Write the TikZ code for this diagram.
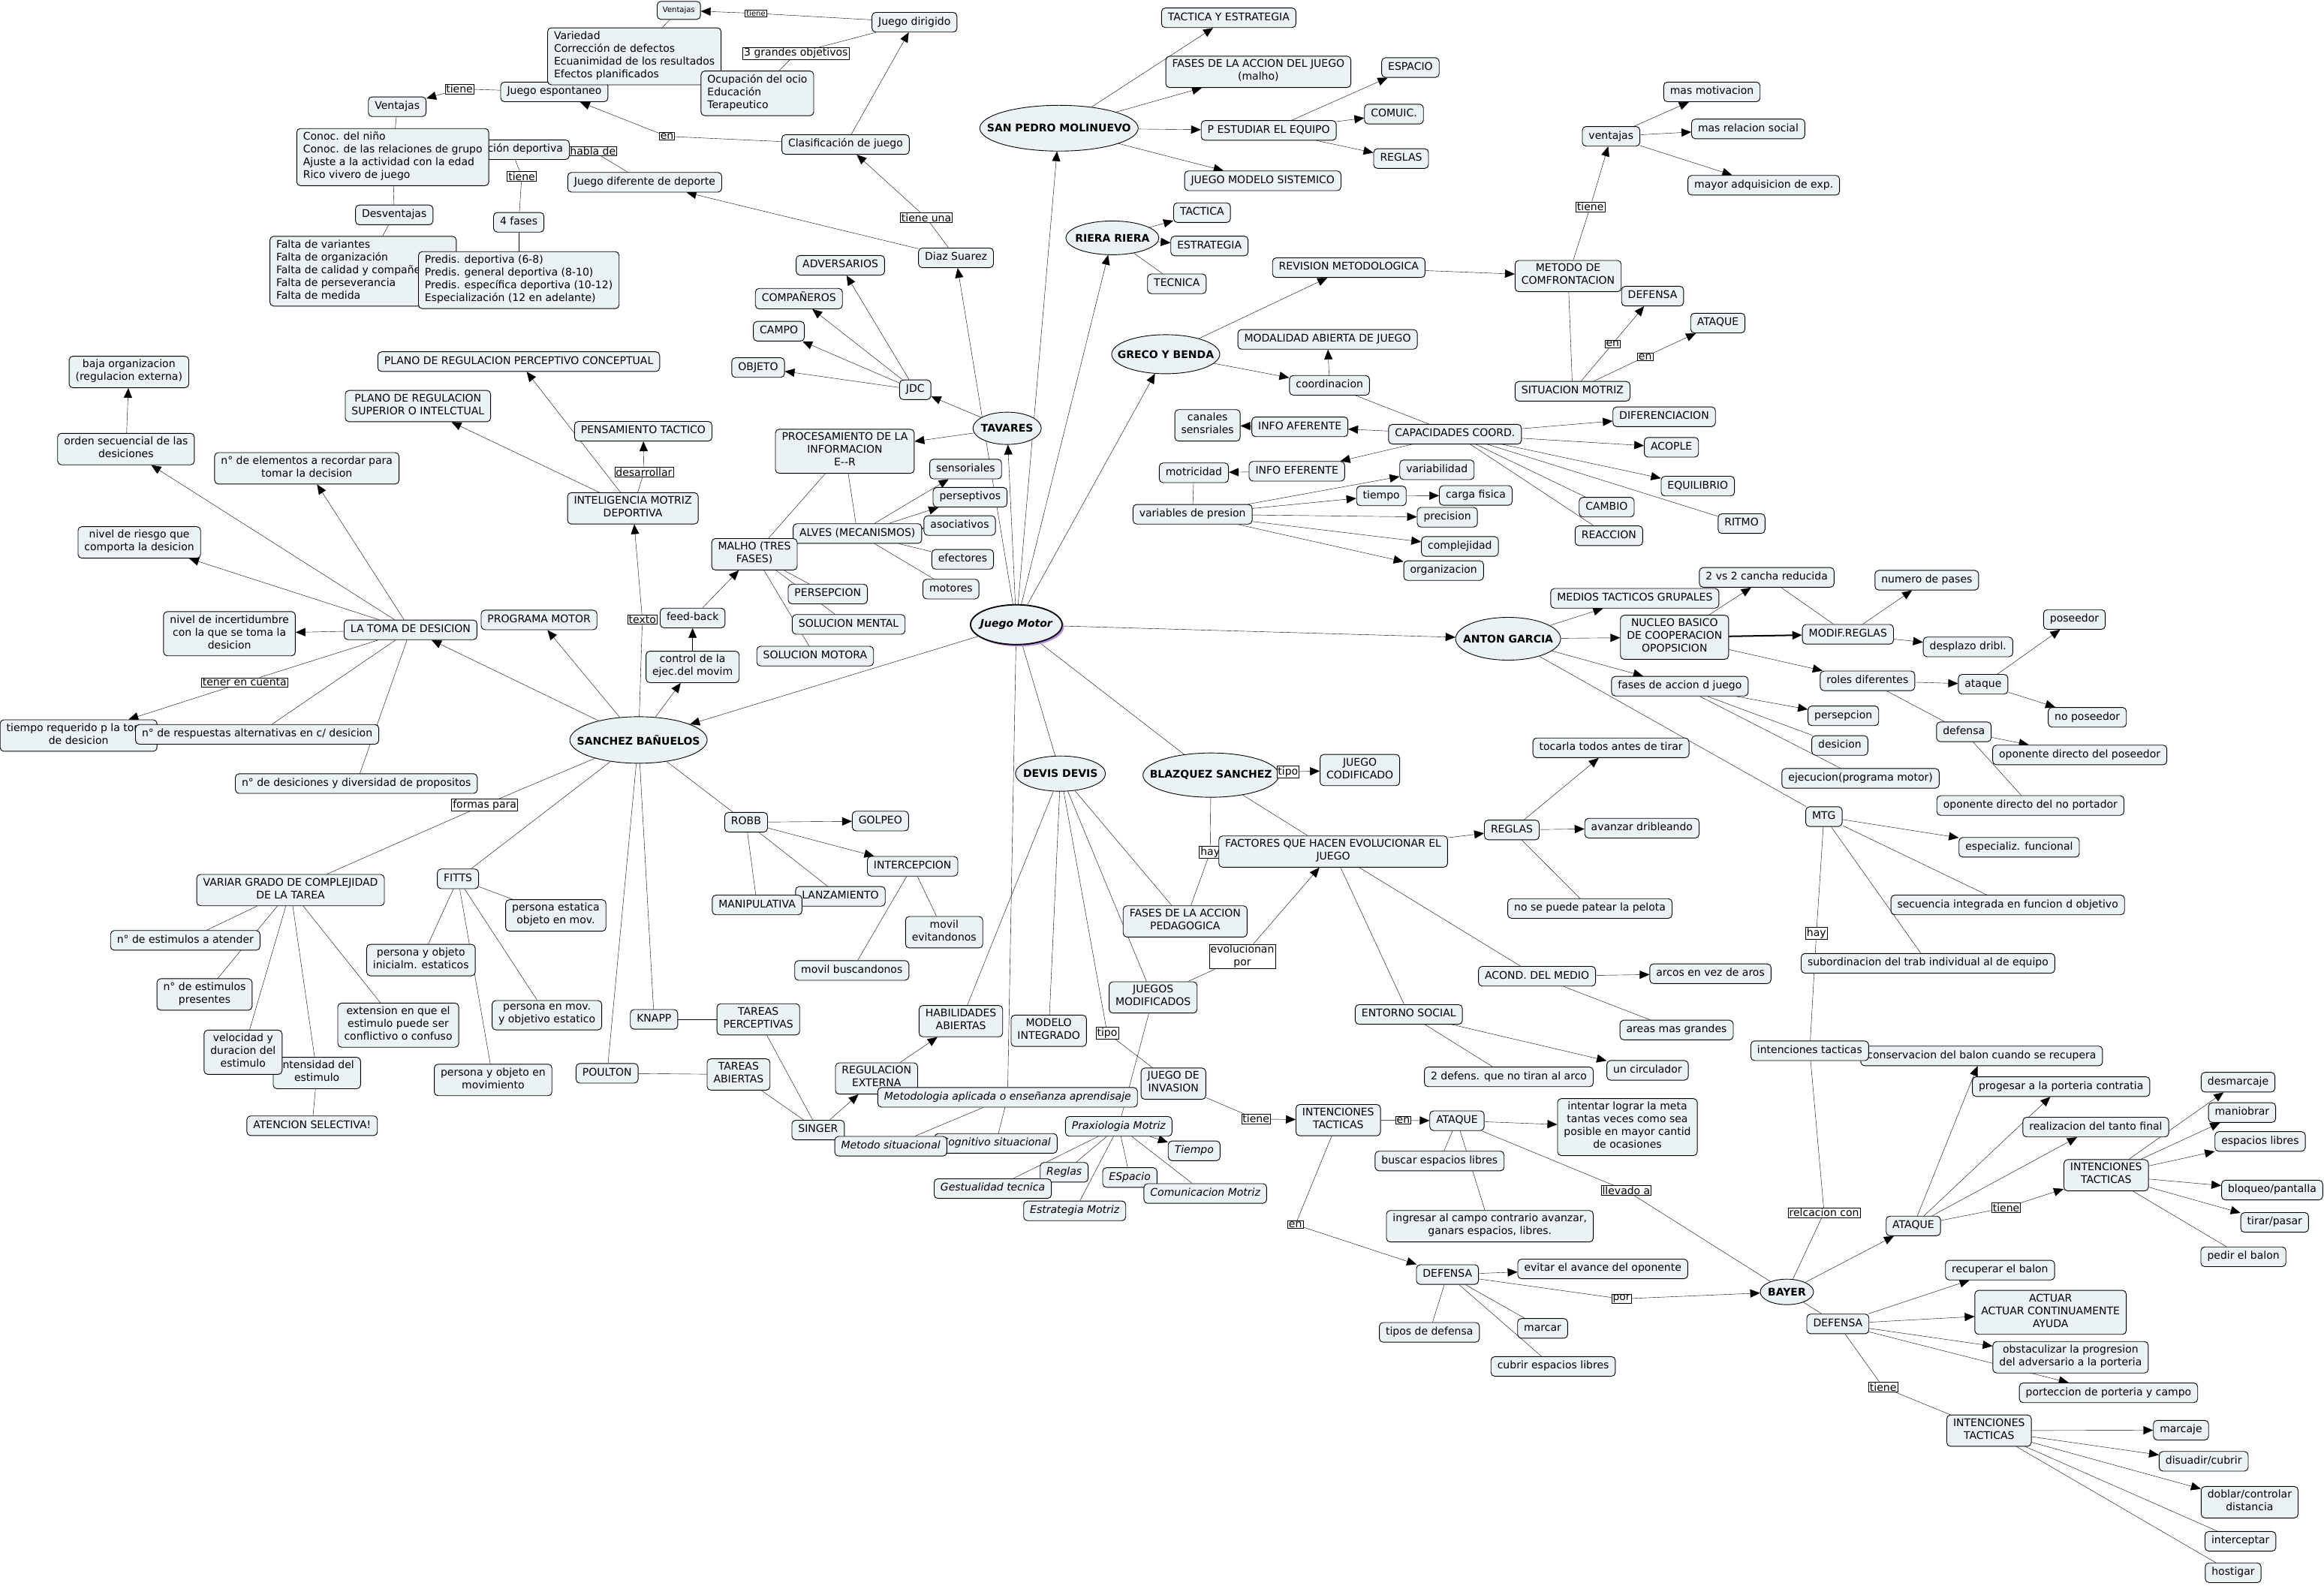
\documentclass[tikz,border=0pt]{standalone}
\usepackage{fontspec}
\setmainfont{DejaVu Sans}
\usetikzlibrary{arrows.meta,shapes.geometric,backgrounds,shadows}
\definecolor{cfill}{HTML}{EBF2F4}
\definecolor{shd}{HTML}{B68FE3}
\newcommand{\mapfont}{\fontsize{14}{17}\selectfont}
\newcommand{\tinyfont}{\fontsize{10}{12}\selectfont}
\tikzset{
  box/.style={draw,line width=0.9pt,rounded corners=5pt,fill=cfill,align=center,font=\mapfont,inner xsep=8.5pt,inner ysep=4.6pt,execute at begin node=\strut,execute at end node=\strut},
  lbox/.style={box,align=left},
  ibox/.style={box,font=\mapfont\itshape},
  sbox/.style={box,font=\tinyfont,inner xsep=7.5pt,inner ysep=6pt},
  ell/.style={ellipse,draw,line width=0.9pt,fill=cfill,font=\mapfont\bfseries,inner xsep=-30pt,inner ysep=0pt},
  lbl/.style={draw,fill=white,line width=0.7pt,inner xsep=1.5pt,inner ysep=1pt,font=\mapfont,align=center},
  slbl/.style={lbl,font=\tinyfont},
  ar/.style={-{Triangle[length=13pt,width=11pt]}},
}
\begin{document}
\begin{tikzpicture}[x=1.9745pt,y=-1.9745pt]
\useasboundingbox (0,0) rectangle (1568,1070);

\node[sbox] (vent2) at (458,7) {Ventajas};
\node[box] (jesp) at (374,62) {Juego espontaneo};
\node[lbox] (var) at (428,38) {Variedad\\Corrección de defectos\\Ecuanimidad de los resultados\\Efectos planificados};
\node[box] (jdir) at (617,15) {Juego dirigido};
\node[lbox] (ocup) at (511,63) {Ocupación del ocio\\Educación\\Terapeutico};
\node[box] (clas) at (570.5,97.5) {Clasificación de juego};
\node[box] (vent) at (268,72) {Ventajas};
\node[box] (inic) at (345,101) {Iniciación deportiva};
\node[lbox] (conoc) at (265,106) {Conoc. del niño\\Conoc. de las relaciones de grupo\\Ajuste a la actividad con la edad\\Rico vivero de juego};
\node[box] (jdif) at (435,123) {Juego diferente de deporte};
\node[box] (desv) at (266,145) {Desventajas};
\node[box] (fases4) at (350,150) {4 fases};
\node[lbox] (falta) at (245,183) {Falta de variantes\\Falta de organización\\Falta de calidad y compañerismo\\Falta de perseverancia\\Falta de medida};
\node[lbox] (predis) at (350,189) {Predis. deportiva (6-8)\\Predis. general deportiva (8-10)\\Predis. específica deportiva (10-12)\\Especialización (12 en adelante)};
\node[box] (diaz) at (645,174) {Diaz Suarez};
\node[slbl] (lt1) at (510,9) {tiene};
\node[lbl] (l3g) at (537,36) {3 grandes objetivos};
\node[lbl] (len1) at (450,92) {en};
\node[lbl] (ltu) at (625,147) {tiene una};
\node[lbl] (lt2) at (310,60) {tiene};
\node[lbl] (lhab) at (400,102) {habla de};
\node[lbl] (lt3) at (352,119) {tiene};

\node[box] (adv) at (567,179) {ADVERSARIOS};
\node[box] (comp) at (539,201.5) {COMPAÑEROS};
\node[box] (campo) at (525.5,223.5) {CAMPO};
\node[box] (obj) at (511.5,248) {OBJETO};
\node[box] (jdc) at (617.5,263) {JDC};
\node[ell,minimum width=91pt,minimum height=43pt] (tav) at (679.5,289) {TAVARES};
\node[box] (proc) at (570,304.5) {PROCESAMIENTO DE LA\\INFORMACION\\E-{}-R};
\node[box] (sens) at (651.5,316.5) {sensoriales};
\node[box] (pers) at (654.5,335.5) {perseptivos};
\node[box] (asoc) at (647.5,354.6) {asociativos};
\node[box] (alves) at (578.5,360) {ALVES (MECANISMOS)};
\node[box] (malho) at (509,374) {MALHO (TRES\\FASES)};
\node[box] (efec) at (649.5,377.4) {efectores};
\node[box] (mot) at (641.6,397.5) {motores};
\node[box] (persep) at (558.5,400.8) {PERSEPCION};
\node[box] (solmen) at (572.6,421.3) {SOLUCION MENTAL};
\node[box] (solmot) at (550,442.7) {SOLUCION MOTORA};

\node[box] (feed) at (467.3,417) {feed-back};
\node[lbl] (ltexto) at (433.4,418) {texto};
\node[box] (ctrl) at (467.3,450) {control de la\\ejec.del movim};
\node[box] (imd) at (427,343) {INTELIGENCIA MOTRIZ\\DEPORTIVA};
\node[box] (pens) at (434,291) {PENSAMIENTO TACTICO};
\node[lbl] (ldes) at (434.5,318.6) {desarrollar};
\node[box] (plsup) at (282,274) {PLANO DE REGULACION\\SUPERIOR O INTELCTUAL};
\node[box] (plper) at (350,244) {PLANO DE REGULACION PERCEPTIVO CONCEPTUAL};
\node[box] (baja) at (87,251) {baja organizacion\\(regulacion externa)};
\node[box] (orden) at (85,303) {orden secuencial de las\\desiciones};
\node[box] (nelem) at (207,316) {n° de elementos a recordar para\\tomar la decision};
\node[box] (riesgo) at (94,366) {nivel de riesgo que\\comporta la desicion};
\node[box] (toma) at (277,425) {LA TOMA DE DESICION};
\node[box] (incert) at (154.8,427.6) {nivel de incertidumbre\\con la que se toma la\\desicion};
\node[box] (progm) at (363.7,418.3) {PROGRAMA MOTOR};
\node[lbl] (lten) at (165,460.3) {tener en cuenta};
\node[box] (treq) at (53,496.3) {tiempo requerido p la toma\\de desicion};
\node[box] (nresp) at (173.5,495.5) {n° de respuestas alternativas en c/ desicion};
\node[box] (ndes) at (240.4,528.7) {n° de desiciones y diversidad de propositos};
\node[ell,minimum width=183pt,minimum height=62pt] (sb) at (430.8,499.3) {SANCHEZ BAÑUELOS};
\node[lbl] (lform) at (327,543) {formas para};
\node[box] (variar) at (196,600.6) {VARIAR GRADO DE COMPLEJIDAD\\DE LA TAREA};
\node[box] (fitts) at (309,593) {FITTS};
\node[box] (pest) at (375,617.7) {persona estatica\\objeto en mov.};
\node[box] (natend) at (125,634.5) {n° de estimulos a atender};
\node[box] (pinic) at (284,647.8) {persona y objeto\\inicialm. estaticos};
\node[box] (npres) at (138,671) {n° de estimulos\\presentes};
\node[box] (ext) at (268.7,691.7) {extension en que el\\estimulo puede ser\\conflictivo o confuso};
\node[box] (pmov) at (369,685) {persona en mov.\\y objetivo estatico};
\node[box] (inten) at (213.8,724) {Intensidad del\\estimulo};
\node[box] (vel) at (164,710) {velocidad y\\duracion del\\estimulo};
\node[box] (atsel) at (210.6,759.6) {ATENCION SELECTIVA!};
\node[box] (pobj) at (332.7,728.7) {persona y objeto en\\movimiento};
\node[box] (poul) at (409.6,724.2) {POULTON};
\node[box] (knapp) at (441.3,687.8) {KNAPP};
\node[box] (tper) at (511.6,687.8) {TAREAS\\PERCEPTIVAS};
\node[box] (tab) at (498.3,725) {TAREAS\\ABIERTAS};
\node[box] (robb) at (503.4,554.8) {ROBB};
\node[box] (golpeo) at (594,554) {GOLPEO};
\node[box] (interc) at (615.7,584.5) {INTERCEPCION};
\node[box] (lanz) at (567,604.8) {LANZAMIENTO};
\node[box] (manip) at (510.8,610.6) {MANIPULATIVA};
\node[box] (mevit) at (637,629) {movil\\evitandonos};
\node[box] (mbusc) at (574.7,654.8) {movil buscandonos};

\node[ell,minimum width=122pt,minimum height=53pt,line width=1.8pt,font=\mapfont\bfseries\itshape,drop shadow={shadow xshift=2.5pt,shadow yshift=-2.5pt,fill=shd,opacity=1}] (jm) at (685.7,421.5) {Juego Motor};
\node[ell,minimum width=120pt,minimum height=47pt] (devis) at (715.5,522) {DEVIS DEVIS};
\node[ell,minimum width=181pt,minimum height=59pt] (blaz) at (817,523) {BLAZQUEZ SANCHEZ};
\node[box] (habab) at (648.3,689) {HABILIDADES\\ABIERTAS};
\node[box] (modint) at (707.6,695.5) {MODELO\\INTEGRADO};
\node[box] (jmod) at (778,673) {JUEGOS\\MODIFICADOS};
\node[lbl] (ltipo1) at (747,697) {tipo};
\node[box] (fasped) at (799.6,621.7) {FASES DE LA ACCION\\PEDAGOGICA};
\node[box] (regext) at (591.4,727.7) {REGULACION\\EXTERNA};
\node[ibox] (metod) at (679.8,740.4) {Metodologia aplicada o enseñanza aprendisaje};
\node[box] (jinv) at (791.7,731.2) {JUEGO DE\\INVASION};
\node[box] (singer) at (552,762.5) {SINGER};
\node[ibox] (cogsit) at (671.9,771.5) {Cognitivo situacional};
\node[ibox] (metsit) at (601,773.4) {Metodo situacional};
\node[ibox] (prax) at (754.8,760) {Praxiologia Motriz};
\node[ibox] (tiempo2) at (805.7,776.5) {Tiempo};
\node[ibox] (reglas2) at (718,791) {Reglas};
\node[ibox] (espacio2) at (762.3,794.5) {ESpacio};
\node[ibox] (gest) at (669.8,802) {Gestualidad tecnica};
\node[ibox] (comun) at (813.2,805.3) {Comunicacion Motriz};
\node[ibox] (estr) at (725.1,817) {Estrategia Motriz};

\node[box] (jcod) at (917.5,519.6) {JUEGO\\CODIFICADO};
\node[lbl] (ltipo2) at (869,520.8) {tipo};
\node[lbl] (lhay1) at (816.5,575) {hay};
\node[box] (factores) at (899.5,574.6) {FACTORES QUE HACEN EVOLUCIONAR EL\\JUEGO};
\node[box] (reglas3) at (1020,560) {REGLAS};
\node[box] (tocar) at (1086.9,504.6) {tocarla todos antes de tirar};
\node[box] (avanz) at (1107.8,558.8) {avanzar dribleando};
\node[box] (nopat) at (1072.7,613) {no se puede patear la pelota};
\node[lbl] (levol) at (838.2,645.5) {evolucionan\\por};
\node[box] (acond) at (1037,658.7) {ACOND. DEL MEDIO};
\node[box] (arcos) at (1154,657) {arcos en vez de aros};
\node[box] (areas) at (1131.2,695) {areas mas grandes};
\node[box] (entorno) at (950.5,684.5) {ENTORNO SOCIAL};
\node[box] (dosdef) at (1018,726.6) {2 defens. que no tiran al arco};
\node[box] (circ) at (1111.6,722.2) {un circulador};

\node[lbl] (ltiene4) at (847.4,755) {tiene};
\node[box] (intac1) at (902.9,755.8) {INTENCIONES\\TACTICAS};
\node[lbl] (len2) at (946.8,756) {en};
\node[box] (atq2) at (983,756.2) {ATAQUE};
\node[box] (intentar) at (1098,760.5) {intentar lograr la meta\\tantas veces como sea\\posible en mayor cantid\\de ocasiones};
\node[box] (buscar) at (971.3,783.4) {buscar espacios libres};
\node[box] (ingresar) at (1005.2,827.4) {ingresar al campo contrario avanzar,\\ganars espacios, libres.};
\node[lbl] (lllev) at (1097.2,803.3) {llevado a};
\node[lbl] (len3) at (874,826.3) {en};
\node[box] (def2) at (976.6,860) {DEFENSA};
\node[box] (evitar) at (1081.4,856.2) {evitar el avance del oponente};
\node[lbl] (lpor) at (1094,876.4) {por};
\node[box] (tipos) at (964.4,899) {tipos de defensa};
\node[box] (marcar) at (1040.8,896.3) {marcar};
\node[box] (cubrir) at (1047.9,922) {cubrir espacios libres};

\node[ell,minimum width=71pt,minimum height=34pt] (bayer) at (1205.6,871.7) {BAYER};
\node[lbl] (lrel) at (1230.7,818.2) {relcacion con};
\node[box] (atqb) at (1290.9,827.2) {ATAQUE};
\node[box] (progesar) at (1390.6,733.2) {progesar a la porteria contratia};
\node[box] (realiz) at (1414,760.5) {realizacion del tanto final};
\node[box] (intacb) at (1421,793) {INTENCIONES\\TACTICAS};
\node[lbl] (ltieneb) at (1353.5,814.8) {tiene};
\node[box] (desm) at (1510,730.2) {desmarcaje};
\node[box] (maniob) at (1512.7,750.7) {maniobrar};
\node[box] (esplib) at (1524.9,770.2) {espacios libres};
\node[box] (bloq) at (1533,803) {bloqueo/pantalla};
\node[box] (tirar) at (1534.7,824.8) {tirar/pasar};
\node[box] (pedir) at (1513.6,848) {pedir el balon};
\node[box] (recup) at (1349.4,857) {recuperar el balon};
\node[box] (defb) at (1240,893.3) {DEFENSA};
\node[box] (actuar) at (1383.5,885.5) {ACTUAR\\ACTUAR CONTINUAMENTE\\AYUDA};
\node[box] (obst) at (1397,915.8) {obstaculizar la progresion\\del adversario a la porteria};
\node[box] (portec) at (1422.6,939.8) {porteccion de porteria y campo};
\node[lbl] (ltienec) at (1270.5,936) {tiene};
\node[box] (intacd) at (1342,965.3) {INTENCIONES\\TACTICAS};
\node[box] (marcaje) at (1471.5,965) {marcaje};
\node[box] (disuad) at (1486.8,986) {disuadir/cubrir};
\node[box] (doblar) at (1517.8,1013.6) {doblar/controlar\\distancia};
\node[box] (intercep) at (1511.6,1040) {interceptar};
\node[box] (hostig) at (1506.7,1061.2) {hostigar};

\node[ell,minimum width=140pt,minimum height=57pt] (anton) at (1017.5,431) {ANTON GARCIA};
\node[box] (medios) at (1103,403.7) {MEDIOS TACTICOS GRUPALES};
\node[box] (nucleo) at (1129.8,430) {NUCLEO BASICO\\DE COOPERACION\\OPOPSICION};
\node[box] (dosvs) at (1192,389.6) {2 vs 2 cancha reducida};
\node[box] (fasesj) at (1133.4,463) {fases de accion d juego};
\node[box] (modif) at (1246.8,428) {MODIF.REGLAS};
\node[box] (npases) at (1300,391.5) {numero de pases};
\node[box] (poseed) at (1399.6,418) {poseedor};
\node[box] (despl) at (1327.8,436.5) {desplazo dribl.};
\node[box] (roles) at (1260,459.4) {roles diferentes};
\node[box] (ataq3) at (1338,461.7) {ataque};
\node[box] (nopos) at (1408.3,484) {no poseedor};
\node[box] (persep2) at (1243.7,483) {persepcion};
\node[box] (desic) at (1241.3,503) {desicion};
\node[box] (defensa3) at (1325,493.8) {defensa};
\node[box] (opos) at (1403.2,509.4) {oponente directo del poseedor};
\node[box] (ejec) at (1255.3,525.2) {ejecucion(programa motor)};
\node[box] (onop) at (1369.9,543.5) {oponente directo del no portador};
\node[box] (mtg) at (1230.6,551) {MTG};
\node[box] (espf) at (1362.3,571.7) {especializ. funcional};
\node[box] (secu) at (1354.6,610.6) {secuencia integrada en funcion d objetivo};
\node[lbl] (lhay2) at (1225.5,629.6) {hay};
\node[box] (subord) at (1300.8,650) {subordinacion del trab individual al de equipo};
\node[box] (conserv) at (1337,712.5) {conservacion del balon cuando se recupera};
\node[box] (intt) at (1221,709) {intenciones tacticas};

\node[ell,minimum width=211pt,minimum height=61pt] (sp) at (714.5,86.5) {SAN PEDRO MOLINUEVO};
\node[box] (tye) at (829,12) {TACTICA Y ESTRATEGIA};
\node[box] (fases) at (849,48.5) {FASES DE LA ACCION DEL JUEGO\\(malho)};
\node[box] (espacio) at (951.6,45.6) {ESPACIO};
\node[box] (comuic) at (940.5,77) {COMUIC.};
\node[box] (pest2) at (856,88) {P ESTUDIAR EL EQUIPO};
\node[box] (reglas1) at (945.3,107) {REGLAS};
\node[box] (jms) at (852,122) {JUEGO MODELO SISTEMICO};
\node[ell,minimum width=124pt,minimum height=45pt] (riera) at (750.5,160.5) {RIERA RIERA};
\node[box] (tact) at (811,143.5) {TACTICA};
\node[box] (estrat) at (816,166) {ESTRATEGIA};
\node[box] (tecn) at (794,191.5) {TECNICA};
\node[ell,minimum width=144pt,minimum height=52pt] (greco) at (786.5,239) {GRECO Y BENDA};
\node[box] (revis) at (910,180.6) {REVISION METODOLOGICA};
\node[box] (metcon) at (1058,186.3) {METODO DE\\COMFRONTACION};
\node[box] (defg) at (1115,199.8) {DEFENSA};
\node[box] (atqg) at (1159,218) {ATAQUE};
\node[lbl] (len4) at (1088,232) {en};
\node[lbl] (len5) at (1110,240.7) {en};
\node[box] (sitm) at (1061,264) {SITUACION MOTRIZ};
\node[box] (ventg) at (1087,92) {ventajas};
\node[lbl] (ltieneg) at (1073,139.5) {tiene};
\node[box] (masmot) at (1155,62) {mas motivacion};
\node[box] (masrel) at (1179.5,87) {mas relacion social};
\node[box] (mayor) at (1190,125) {mayor adquisicion de exp.};
\node[box] (modab) at (895.7,229) {MODALIDAD ABIERTA DE JUEGO};
\node[box] (coord) at (897,260) {coordinacion};
\node[box] (capac) at (981.7,293) {CAPACIDADES COORD.};
\node[box] (canales) at (814.7,287) {canales\\sensriales};
\node[box] (infoaf) at (877,288) {INFO AFERENTE};
\node[box] (infoef) at (875,318) {INFO EFERENTE};
\node[box] (motric) at (805.5,319) {motricidad};
\node[box] (varp) at (804.6,347) {variables de presion};
\node[box] (variab) at (969.5,317) {variabilidad};
\node[box] (tiempo1) at (932,334.6) {tiempo};
\node[box] (carga) at (995.7,334.3) {carga fisica};
\node[box] (precis) at (976.5,349) {precision};
\node[box] (complej) at (985,368.7) {complejidad};
\node[box] (organiz) at (974,385) {organizacion};
\node[box] (difer) at (1122.8,281.2) {DIFERENCIACION};
\node[box] (acople) at (1127.7,301.8) {ACOPLE};
\node[box] (equil) at (1145.5,328) {EQUILIBRIO};
\node[box] (ritmo) at (1175,353.3) {RITMO};
\node[box] (cambio) at (1084,342.2) {CAMBIO};
\node[box] (reacc) at (1085.5,361.5) {REACCION};

\begin{scope}[on background layer,line width=1.2pt]
\fill[white] (0,0) rectangle (1568,1070);
\draw (jdir) -- (lt1); \draw[ar] (lt1) -- (vent2);
\draw (vent2) -- (var);
\draw (jdir) -- (l3g) -- (ocup);
\draw[ar] (clas) -- (jdir);
\draw (clas) -- (len1); \draw[ar] (len1) -- (jesp);
\draw (jesp) -- (lt2); \draw[ar] (lt2) -- (vent);
\draw (vent) -- (conoc); \draw (conoc) -- (desv); \draw (desv) -- (falta);
\draw (inic) -- (lt3) -- (fases4); \draw (fases4) -- (predis);
\draw (inic) -- (lhab) -- (jdif);
\draw[ar] (diaz) -- (jdif);
\draw (diaz) -- (ltu); \draw[ar] (ltu) -- (clas);
\draw[ar] (jm) -- (diaz);
\draw[ar] (jm) -- (tav);
\draw[ar] (tav) -- (jdc);
\foreach \n in {adv,comp,campo,obj} \draw[ar] (jdc) -- (\n);
\draw[ar] (tav) -- (proc);
\draw (proc) -- (alves); \draw (proc) -- (malho);
\foreach \n in {sens,pers,asoc} \draw[ar] (alves) -- (\n);
\draw (alves) -- (efec); \draw (alves) -- (mot);
\foreach \n in {persep,solmen,solmot} \draw (malho) -- (\n);
\draw[ar] (feed) -- (malho); \draw[ar] (ctrl) -- (feed); \draw[ar] (sb) -- (ctrl);
\draw (sb) -- (ltexto); \draw[ar] (ltexto) -- (imd);
\draw (imd) -- (ldes); \draw[ar] (ldes) -- (pens);
\draw[ar] (imd) -- (plsup); \draw[ar] (imd) -- (plper);
\draw[ar] (jm) -- (sb);
\draw[ar] (sb) -- (toma); \draw[ar] (sb) -- (progm);
\foreach \n in {orden,nelem,riesgo,incert} \draw[ar] (toma) -- (\n);
\draw (toma) -- (lten); \draw[ar] (lten) -- (treq);
\draw (toma) -- (nresp); \draw (toma) -- (ndes);
\draw[ar] (orden) -- (baja);
\draw (sb) -- (lform) -- (variar);
\foreach \n in {fitts,knapp,poul,robb} \draw (sb) -- (\n);
\foreach \n in {natend,npres,vel,inten,ext} \draw (variar) -- (\n);
\draw (inten) -- (atsel);
\foreach \n in {pinic,pest,pmov,pobj} \draw (fitts) -- (\n);
\draw[ar] (robb) -- (golpeo); \draw[ar] (robb) -- (interc);
\draw (robb) -- (lanz); \draw (robb) -- (manip);
\draw (interc) -- (mevit); \draw (interc) -- (mbusc);
\draw (knapp) -- (tper); \draw (poul) -- (tab);
\draw (tab) -- (singer); \draw (tper) -- (singer);
\draw[ar] (singer) -- (regext); \draw[ar] (regext) -- (habab);
\draw (jm) -- (metod); \draw (jm) -- (devis); \draw (jm) -- (blaz);
\foreach \n in {habab,modint,fasped,jmod} \draw (devis) -- (\n);
\draw (devis) -- (ltipo1) -- (jinv);
\draw (jmod) -- (prax);
\draw (jmod) -- (levol); \draw[ar] (levol) -- (factores);
\draw (metod) -- (metsit); \draw (metod) -- (cogsit);
\foreach \n in {reglas2,gest,estr,espacio2,comun} \draw (prax) -- (\n);
\draw[ar] (prax) -- (tiempo2);
\draw (blaz) -- (ltipo2); \draw[ar] (ltipo2) -- (jcod);
\draw (blaz) -- (lhay1) -- (fasped);
\draw (blaz) -- (factores);
\draw[ar] (factores) -- (reglas3);
\draw (factores) -- (acond); \draw (factores) -- (entorno);
\draw[ar] (reglas3) -- (tocar); \draw[ar] (reglas3) -- (avanz); \draw (reglas3) -- (nopat);
\draw[ar] (acond) -- (arcos); \draw (acond) -- (areas);
\draw[ar] (entorno) -- (circ); \draw (entorno) -- (dosdef);
\draw (jinv) -- (ltiene4); \draw[ar] (ltiene4) -- (intac1);
\draw (intac1) -- (len2); \draw[ar] (len2) -- (atq2);
\draw (intac1) -- (len3); \draw[ar] (len3) -- (def2);
\draw[ar] (atq2) -- (intentar); \draw (atq2) -- (buscar); \draw (atq2) -- (ingresar);
\draw (atq2) -- (lllev) -- (bayer);
\draw[ar] (def2) -- (evitar); \draw (def2) -- (lpor); \draw[ar] (lpor) -- (bayer);
\foreach \n in {tipos,marcar,cubrir} \draw (def2) -- (\n);
\draw[ar] (bayer) -- (atqb); \draw (bayer) -- (defb);
\draw (bayer) -- (lrel) -- (intt);
\foreach \n in {conserv,progesar,realiz} \draw[ar] (atqb) -- (\n);
\draw (atqb) -- (ltieneb); \draw[ar] (ltieneb) -- (intacb);
\foreach \n in {desm,maniob,esplib,bloq,tirar} \draw[ar] (intacb) -- (\n);
\draw (intacb) -- (pedir);
\foreach \n in {recup,actuar,obst,portec} \draw[ar] (defb) -- (\n);
\draw (defb) -- (ltienec) -- (intacd);
\foreach \n in {marcaje,disuad,doblar} \draw[ar] (intacd) -- (\n);
\draw (intacd) -- (intercep); \draw (intacd) -- (hostig);
\draw[ar] (jm) -- (anton);
\foreach \n in {medios,nucleo,fasesj} \draw[ar] (anton) -- (\n);
\draw (anton) -- (mtg);
\draw[ar,line width=2pt] (nucleo) -- (modif);
\draw[ar] (nucleo) -- (dosvs); \draw[ar] (nucleo) -- (roles);
\draw[ar] (modif) -- (npases); \draw[ar] (modif) -- (despl); \draw (dosvs) -- (modif);
\draw[ar] (roles) -- (ataq3); \draw (roles) -- (defensa3);
\draw[ar] (ataq3) -- (poseed); \draw[ar] (ataq3) -- (nopos);
\draw[ar] (defensa3) -- (opos); \draw (defensa3) -- (onop);
\draw[ar] (fasesj) -- (persep2); \draw (fasesj) -- (desic); \draw (fasesj) -- (ejec);
\draw[ar] (mtg) -- (espf); \draw (mtg) -- (secu); \draw (mtg) -- (subord);
\draw (mtg) -- (lhay2) -- (intt);
\draw[ar] (jm) -- (sp); \draw[ar] (jm) -- (riera); \draw[ar] (jm) -- (greco);
\foreach \n in {tye,fases,pest2,jms} \draw[ar] (sp) -- (\n);
\foreach \n in {espacio,comuic,reglas1} \draw[ar] (pest2) -- (\n);
\draw[ar] (riera) -- (tact); \draw[ar] (riera) -- (estrat); \draw (riera) -- (tecn);
\draw[ar] (greco) -- (revis); \draw[ar] (greco) -- (coord);
\draw[ar] (revis) -- (metcon);
\draw (metcon) -- (sitm); \draw (metcon) -- (ltieneg); \draw[ar] (ltieneg) -- (ventg);
\draw (sitm) -- (len4); \draw[ar] (len4) -- (defg);
\draw (sitm) -- (len5); \draw[ar] (len5) -- (atqg);
\foreach \n in {masmot,masrel,mayor} \draw[ar] (ventg) -- (\n);
\draw[ar] (coord) -- (modab); \draw (coord) -- (capac);
\draw[ar] (capac) -- (infoaf); \draw[ar] (capac) -- (infoef);
\foreach \n in {difer,acople,equil} \draw[ar] (capac) -- (\n);
\foreach \n in {ritmo,cambio,reacc} \draw (capac) -- (\n);
\draw[ar] (infoaf) -- (canales); \draw[ar] (infoef) -- (motric);
\draw (motric) -- (varp);
\foreach \n in {variab,tiempo1,precis,complej,organiz} \draw[ar] (varp) -- (\n);
\draw[ar] (tiempo1) -- (carga);
\end{scope}
\end{tikzpicture}
\end{document}
